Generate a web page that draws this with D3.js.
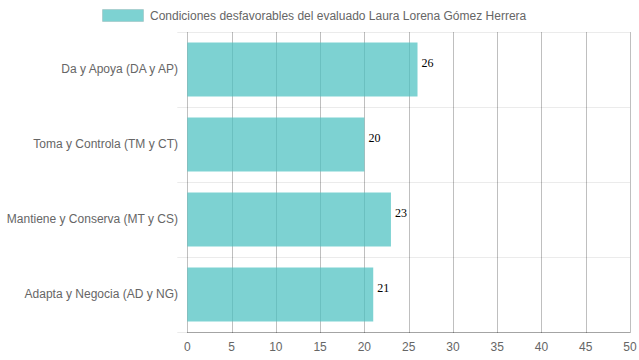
<!DOCTYPE html>
<html><head><meta charset="utf-8">
<script src="https://cdn.jsdelivr.net/npm/d3@7"></script>
<style>body{margin:0;background:#fff}svg{display:block}</style>
</head><body>
<svg id="c" width="639" height="360"></svg>
<script>
const categories = ["Da y Apoya (DA y AP)", "Toma y Controla (TM y CT)", "Mantiene y Conserva (MT y CS)", "Adapta y Negocia (AD y NG)"];
const values = [26, 20, 23, 21];
const seriesName = "Condiciones desfavorables del evaluado Laura Lorena Gómez Herrera";
const xTicks = [0, 5, 10, 15, 20, 25, 30, 35, 40, 45, 50];

(function () {
const svg = d3.select("#c");
const pLeft = 187.3, pRight = 630, pTop = 32, pBottom = 332;
const x = d3.scaleLinear().domain([0, 50]).range([pLeft, pRight]);
const y = d3.scaleBand().domain(categories).range([pTop, pBottom]).padding(0);
const barH = y.bandwidth() * 0.72;
const font = "Liberation Sans, Arial, sans-serif";

const hLines = categories.map(c => y(c)).concat([pBottom]);
svg.append("g").selectAll("line").data(hLines).join("line")
  .attr("x1", pLeft - 10).attr("x2", pRight)
  .attr("y1", d => Math.round(d) + 0.5).attr("y2", d => Math.round(d) + 0.5)
  .attr("stroke", "rgba(0,0,0,0.08)");

svg.append("g").selectAll("line").data(xTicks).join("line")
  .attr("x1", d => Math.round(x(d)) + 0.5).attr("x2", d => Math.round(x(d)) + 0.5)
  .attr("y1", pTop).attr("y2", pBottom + 1)
  .attr("stroke", "rgba(0,0,0,0.25)");

svg.append("line").attr("x1", pLeft).attr("x2", pRight)
  .attr("y1", pBottom + 0.5).attr("y2", pBottom + 0.5).attr("stroke", "rgba(0,0,0,0.3)");

svg.append("g").selectAll("rect").data(values).join("rect")
  .attr("x", x(0))
  .attr("y", (d, i) => y(categories[i]) + (y.bandwidth() - barH) / 2)
  .attr("width", d => x(d) - x(0))
  .attr("height", barH)
  .attr("fill", "rgba(75,192,192,0.72)");

svg.append("g").selectAll("text").data(values).join("text")
  .attr("x", d => x(d) + 4)
  .attr("y", (d, i) => y(categories[i]) + y.bandwidth() / 2 - 7)
  .attr("dy", "0.35em")
  .attr("font-family", "Liberation Serif, Times New Roman, serif")
  .attr("font-size", 12).attr("fill", "#000")
  .text(d => d);

svg.append("g").selectAll("text").data(categories).join("text")
  .attr("x", 178)
  .attr("y", d => y(d) + y.bandwidth() / 2 - 1)
  .attr("dy", "0.35em").attr("text-anchor", "end")
  .attr("font-family", font).attr("font-size", 12).attr("fill", "#666")
  .text(d => d);

svg.append("g").selectAll("text").data(xTicks).join("text")
  .attr("x", d => x(d))
  .attr("y", 347).attr("dy", "0.35em").attr("text-anchor", "middle")
  .attr("font-family", font).attr("font-size", 12).attr("fill", "#666")
  .text(d => d);

svg.append("rect").attr("x", 102.5).attr("y", 9.5).attr("width", 41).attr("height", 12)
  .attr("fill", "rgba(75,192,192,0.72)").attr("stroke", "rgba(0,0,0,0.1)").attr("stroke-width", 1);
svg.append("text").attr("x", 150).attr("y", 15.5).attr("dy", "0.35em")
  .attr("font-family", font).attr("font-size", 12).attr("fill", "#666")
  .text(seriesName);
})();
</script>
</body></html>
